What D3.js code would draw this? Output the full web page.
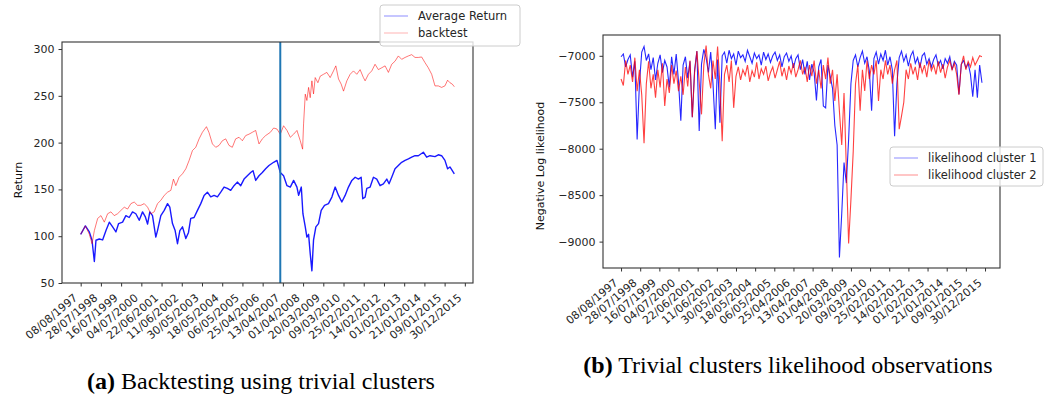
<!DOCTYPE html>
<html>
<head>
<meta charset="utf-8">
<script src="https://cdn.jsdelivr.net/npm/d3@7"></script>
<style>
  body { margin: 0; background: #fff; }
  svg text { font-family: "DejaVu Sans", sans-serif; }
  .caption { font-family: "Liberation Serif", "Times New Roman", serif; }
</style>
</head>
<body>
<svg id="fig" width="1045" height="398"></svg>
<script>
// tick labels, one every 250 trading days
const tickDates = ["08/08/1997","28/07/1998","16/07/1999","04/07/2000","22/06/2001","11/06/2002",
  "30/05/2003","18/05/2004","06/05/2005","25/04/2006","13/04/2007","01/04/2008","20/03/2009",
  "09/03/2010","25/02/2011","14/02/2012","01/02/2013","21/01/2014","09/01/2015","30/12/2015"];
const tickStep = 250;

// (a) backtest : day index + value
const avgDays = [0,58,107,140,169,189,230,271,313,354,395,436,469,518,559,600,641,682,724,765,798,827,855,888,929,950,991,1033,1074,1102,1135,1168,1197,1226,1259,1300,1333,1361,1402,1444,1485,1526,1567,1608,1650,1691,1732,1773,1814,1855,1896,1937,1979,2020,2061,2102,2131,2164,2205,2246,2287,2328,2386,2427,2468,2509,2551,2592,2633,2674,2695,2728,2748,2777,2797,2818,2838,2859,2879,2908,2941,2974,3015,3064,3106,3147,3188,3229,3270,3311,3353,3394,3435,3468,3488,3517,3538,3579,3620,3661,3702,3743,3785,3813,3846,3887,3928,3969,4011,4052,4093,4134,4175,4237,4278,4319,4381,4422,4463,4504,4537,4566,4595,4620];
const avgReturn = [102,111,104.6,95.7,73,95.7,97,96,106,115,110,104.6,113.5,115,122,120,126,124,117,126,121,113,126,122,99,106,122,127.6,134.8,131,113.5,106,92,106,110,97.5,104,119,120,127.6,134.8,143.6,147,142,143.6,142,147,152.5,151,149,154,157.8,154,161,164.6,168,170,159.6,164.6,168,172,175.5,179,181,168,164.6,154,152.5,159.6,152.5,143.6,152.5,124,110,99,102,81.6,63,95.7,110,113.5,127.6,133,134.8,141.8,152.5,143.6,136.5,143.6,152.5,159.6,163,161,163,140,141.8,151,152.5,163,161,154,156,161,156,163,172,175.5,179,181,182.6,184.4,186,186,189.7,184.4,186,185,187,186,181,172,174,170,166.7];

const btDays = [0,58,107,140,169,210,251,292,333,374,415,456,498,539,580,621,662,703,744,786,827,868,909,950,991,1033,1074,1115,1147,1176,1217,1259,1300,1341,1382,1423,1464,1505,1555,1587,1629,1670,1711,1752,1793,1834,1875,1916,1958,1999,2040,2081,2122,2164,2205,2246,2287,2345,2386,2427,2468,2509,2551,2592,2633,2674,2715,2744,2756,2777,2797,2818,2838,2859,2879,2900,2933,2962,3003,3044,3085,3126,3155,3188,3221,3250,3291,3332,3373,3414,3455,3496,3517,3558,3599,3640,3681,3723,3764,3805,3846,3887,3928,3969,4011,4052,4093,4134,4175,4216,4257,4298,4340,4381,4422,4463,4504,4537,4566,4595,4620];
const btReturn = [102,111,102,92,106,119,122,115,124,126,122,124,127.6,131,129,134.8,136.5,133,133,134.8,131,124,126,134.8,138.3,143.6,147,149,161,154,163,166.7,172,181,191.5,195,204,211,217,210.7,198.6,195,197,202,204,197,195,204,205.7,202,207.5,209,211,213,198.6,204,207.5,211,215.6,214.5,209,218,213,205.7,209,213,202,193,220,251.8,245,259,248,266,252,269.5,264,271,273,275,269.5,276.6,282,268,262.5,255,266,273,276.6,273,278,269.5,266,273,276.6,283.7,278,280,282,275,283.7,287,292.6,289,291,292.6,294,291,291,291.5,285.5,280,273,260.6,260.6,259,260.6,266.7,264,262.5,259.7];

const splitDay = 2468;

// (b) likelihoods, one value every 30 trading days
const lhStep = 30;
const cluster1 = [-7010,-6980,-7120,-7040,-6990,-7230,-7060,-7900,-7300,-6960,
  -6900,-7050,-6980,-7150,-7020,-7260,-7080,-6990,-7180,-7050,
  -7120,-7340,-7010,-7200,-6980,-7280,-7700,-7100,-7010,-7240,
  -7060,-7660,-7150,-6950,-7810,-7090,-6930,-7020,-7180,-6960,
  -7300,-7790,-7040,-7720,-7000,-6960,-7080,-6940,-7030,-6980,
  -7100,-6950,-7020,-6990,-7060,-6940,-7010,-7080,-6970,-7030,
  -6990,-7100,-6960,-7040,-6980,-7070,-7000,-6960,-7050,-6990,
  -7120,-7010,-6970,-7060,-7000,-7130,-7030,-6990,-7150,-7040,
  -7200,-7060,-7260,-7090,-7180,-7480,-7120,-7040,-7540,-7560,
  -7100,-7220,-7350,-7750,-7960,-9170,-8700,-8150,-8370,-7900,
  -7300,-7050,-6990,-7120,-7020,-6950,-7080,-7010,-7160,-7590,
  -7030,-6960,-7090,-6980,-7050,-6940,-7100,-7010,-7150,-7866,
  -7300,-7020,-6950,-7060,-6990,-7110,-7000,-6950,-7080,-7020,
  -7130,-7000,-6970,-7090,-7030,-7120,-7040,-6990,-7100,-7050,
  -7140,-7030,-7080,-7010,-7150,-7060,-7100,-7413,-7090,-7050,
  -7130,-7080,-7200,-7440,-7150,-7450,-7100,-7290];
const cluster2 = [-7250,-7320,-7050,-7200,-7100,-7280,-7020,-7380,-7150,-7420,
  -7940,-7300,-7060,-7350,-7200,-7450,-7150,-7340,-7080,-7540,
  -7250,-7400,-7100,-7300,-7160,-7380,-7220,-7420,-7120,-7330,
  -7050,-7660,-7180,-6950,-7280,-7630,-7100,-6890,-7200,-7350,
  -7050,-7250,-6900,-7300,-7920,-7200,-7100,-7280,-7050,-7560,
  -7220,-7120,-7260,-7150,-7210,-7100,-7280,-7160,-7230,-7070,
  -7250,-7140,-7200,-7110,-7270,-7180,-7120,-7240,-7150,-7060,
  -7220,-7130,-7260,-7110,-7190,-7080,-7230,-7150,-7050,-7200,
  -7120,-7280,-7100,-7220,-7050,-7300,-7150,-7350,-7100,-7250,
  -7020,-7300,-7150,-7485,-7200,-7600,-7960,-7400,-8200,-9020,
  -8550,-8030,-7300,-7100,-7590,-7150,-7377,-7050,-7250,-7100,
  -7200,-7050,-7485,-7150,-7250,-7050,-7200,-7100,-7300,-7150,
  -7050,-7790,-7650,-7500,-7150,-7250,-7080,-7200,-7120,-7260,
  -7070,-7180,-7100,-7230,-7050,-7160,-7100,-7200,-7060,-7180,
  -7090,-7240,-7120,-7050,-7150,-7080,-7200,-7420,-7100,-7000,
  -7150,-7060,-7120,-7020,-7100,-7050,-7000,-7010];

const tickColor = "#333";
const labelColor = "#262626";

const svg = d3.select("#fig");

// matplotlib style 5% padding
function padded(lo, hi) {
  const m = (hi - lo) * 0.05;
  return [lo - m, hi + m];
}

function frame(box, x, y, yTicks, yLabel, yLabelPos) {
  const g = svg.append("g");

  const xAxis = d3.axisBottom(x)
    .tickValues(tickDates.map((d, i) => i * tickStep))
    .tickFormat((d, i) => tickDates[i])
    .tickSizeOuter(0).tickSize(3.5);

  g.append("g")
    .attr("transform", `translate(0,${box.bottom})`)
    .call(xAxis)
    .call(a => a.select(".domain").remove())
    .call(a => a.selectAll("line").attr("stroke", tickColor))
    .call(a => a.selectAll("text")
      .attr("x", 0).attr("y", 0).attr("dy", null)
      .attr("text-anchor", "end")
      .attr("transform", "translate(-3,16) rotate(-40)")
      .attr("fill", labelColor)
      .style("font-size", "11px"));

  g.append("g")
    .attr("transform", `translate(${box.left},0)`)
    .call(d3.axisLeft(y).tickValues(yTicks).tickFormat(d3.format("d")).tickSizeOuter(0).tickSize(3.5).tickPadding(4))
    .call(a => a.select(".domain").remove())
    .call(a => a.selectAll("line").attr("stroke", tickColor))
    .call(a => a.selectAll("text").attr("fill", labelColor).style("font-size", "11px"));

  svg.append("text")
    .attr("transform", `translate(${yLabelPos[0]},${yLabelPos[1]}) rotate(-90)`)
    .attr("text-anchor", "middle")
    .attr("dy", "0.35em")
    .style("font-size", "11px")
    .attr("fill", "#111")
    .text(yLabel);
}

function spines(box) {
  svg.append("rect")
    .attr("x", box.left).attr("y", box.top)
    .attr("width", box.right - box.left).attr("height", box.bottom - box.top)
    .attr("fill", "none").attr("stroke", tickColor).attr("stroke-width", 1.1);
}

function legend(x0, y0, w, h, items) {
  const g = svg.append("g").attr("transform", `translate(${x0},${y0})`);
  g.append("rect").attr("width", w).attr("height", h).attr("rx", 3)
    .attr("fill", "#fff").attr("fill-opacity", 0.8)
    .attr("stroke", "#cccccc");
  items.forEach((it, i) => {
    const yy = 11 + i * 17;
    g.append("line").attr("x1", 4).attr("x2", 28).attr("y1", yy).attr("y2", yy)
      .attr("stroke", it.color).attr("stroke-width", 1.5);
    g.append("text").attr("x", 38).attr("y", yy).attr("dy", "0.35em")
      .style("font-size", "11.5px").attr("fill", labelColor).text(it.label);
  });
}

/* ---------- (a) backtesting ---------- */
const boxA = { left: 62, right: 473, top: 42, bottom: 283 };
const xA = d3.scaleLinear().domain(padded(0, d3.max(avgDays))).range([boxA.left, boxA.right]);
const yA = d3.scaleLinear().domain([50, 307.5]).range([boxA.bottom, boxA.top]);

frame(boxA, xA, yA, [50, 100, 150, 200, 250, 300], "Return", [18, 180]);

const lineA = (days, vals) => d3.line().x((d, i) => xA(days[i])).y(d => yA(d))(vals);

svg.append("path").attr("d", lineA(avgDays, avgReturn))
  .attr("fill", "none").attr("stroke", "#0000ff").attr("stroke-width", 1.4)
  .attr("stroke-opacity", 0.9).attr("stroke-linejoin", "round");
svg.append("path").attr("d", lineA(btDays, btReturn))
  .attr("fill", "none").attr("stroke", "#ff0000").attr("stroke-width", 0.9)
  .attr("stroke-opacity", 0.6).attr("stroke-linejoin", "round");

svg.append("line")
  .attr("x1", xA(splitDay)).attr("x2", xA(splitDay))
  .attr("y1", boxA.top).attr("y2", boxA.bottom)
  .attr("stroke", "#1f77b4").attr("stroke-width", 2);

spines(boxA);
legend(380, 5, 140, 41, [
  { label: "Average Return", color: "#b3b3ff" },
  { label: "backtest", color: "#ffcccc" }
]);

/* ---------- (b) likelihoods ---------- */
const boxB = { left: 603, right: 1000, top: 35, bottom: 268 };
const allLh = cluster1.concat(cluster2);
const xB = d3.scaleLinear().domain(padded(0, (cluster1.length - 1) * lhStep)).range([boxB.left, boxB.right]);
const yB = d3.scaleLinear().domain(padded(d3.min(allLh), d3.max(allLh))).range([boxB.bottom, boxB.top]);

frame(boxB, xB, yB, [-9000, -8500, -8000, -7500, -7000], "Negative Log likelihood", [540, 166]);

const lineB = d3.line().x((d, i) => xB(i * lhStep)).y(d => yB(d));

svg.append("path").attr("d", lineB(cluster1))
  .attr("fill", "none").attr("stroke", "#0000ff").attr("stroke-width", 1.1)
  .attr("stroke-opacity", 0.85);
svg.append("path").attr("d", lineB(cluster2))
  .attr("fill", "none").attr("stroke", "#ff0000").attr("stroke-width", 1.1)
  .attr("stroke-opacity", 0.75);

spines(boxB);
legend(890, 147, 153, 39, [
  { label: "likelihood cluster 1", color: "#b3b3ff" },
  { label: "likelihood cluster 2", color: "#ffb3b3" }
]);

/* ---------- captions ---------- */
function caption(cx, y, tag, text) {
  const t = svg.append("text").attr("class", "caption")
    .attr("x", cx).attr("y", y).attr("text-anchor", "middle")
    .style("font-size", "24px").attr("fill", "#000");
  t.append("tspan").style("font-weight", "bold").text(tag);
  t.append("tspan").text(" " + text);
}
caption(261, 389, "(a)", "Backtesting using trivial clusters");
caption(788, 373, "(b)", "Trivial clusters likelihood observations");
</script>
</body>
</html>
